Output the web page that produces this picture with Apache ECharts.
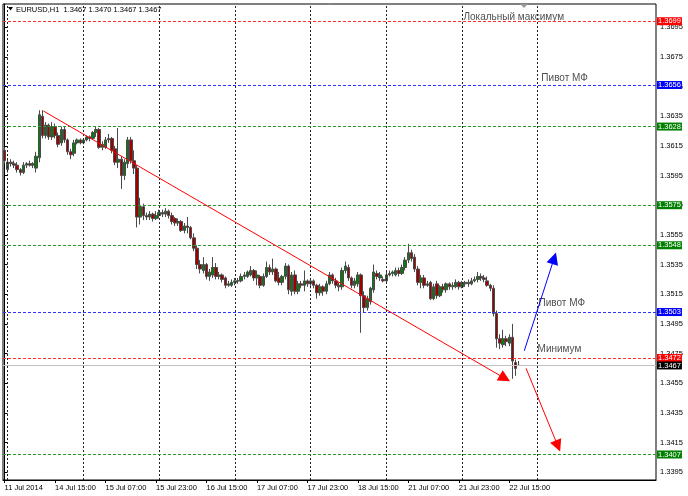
<!DOCTYPE html>
<html><head><meta charset="utf-8">
<script src="https://cdn.jsdelivr.net/npm/echarts@6/dist/echarts.min.js"></script>
<style>html,body{margin:0;padding:0;background:#fff}#c{width:688px;height:496px}</style>
</head><body><div id="c"></div>
<script>
const symbolName = 'EURUSD,H1';
const startLabel = '11 Jul 2014';

const open = [
1.3612,1.3599,1.3604,1.3603,1.3602,1.3599,1.3597,1.3602,1.3603,1.3602,
1.3600,1.3607,1.3635,1.3622,1.3629,1.3621,1.3628,1.3622,1.3617,1.3626,
1.3619,1.3611,1.3610,1.3617,1.3619,1.3617,1.3619,1.3621,1.3620,1.3624,
1.3626,1.3614,1.3614,1.3619,1.3620,1.3613,1.3604,1.3606,1.3595,1.3603,
1.3619,1.3605,1.3600,1.3567,1.3574,1.3568,1.3567,1.3569,1.3566,1.3568,
1.3570,1.3569,1.3571,1.3568,1.3566,1.3563,1.3564,1.3558,1.3561,1.3560,
1.3553,1.3546,1.3535,1.3531,1.3535,1.3527,1.3528,1.3533,1.3527,1.3528,
1.3526,1.3521,1.3521,1.3523,1.3524,1.3524,1.3527,1.3527,1.3528,1.3531,
1.3526,1.3527,1.3521,1.3527,1.3533,1.3530,1.3532,1.3526,1.3523,1.3527,
1.3534,1.3517,1.3528,1.3517,1.3522,1.3521,1.3524,1.3522,1.3524,1.3521,
1.3516,1.3520,1.3517,1.3522,1.3528,1.3524,1.3521,1.3520,1.3531,1.3533,
1.3526,1.3521,1.3522,1.3528,1.3514,1.3506,1.3510,1.3518,1.3529,1.3526,
1.3525,1.3524,1.3528,1.3529,1.3528,1.3531,1.3529,1.3533,1.3538,1.3543,
1.3540,1.3532,1.3523,1.3526,1.3521,1.3523,1.3512,1.3522,1.3514,1.3520,
1.3518,1.3522,1.3520,1.3520,1.3523,1.3520,1.3522,1.3523,1.3522,1.3524,
1.3525,1.3527,1.3526,1.3524,1.3521,1.3519,1.3502,1.3485,1.3481,1.3485,
1.3482,1.3486,1.3469,1.3467];
const high = [
1.3614,1.3606,1.3606,1.3605,1.3604,1.3600,1.3604,1.3604,1.3605,1.3604,
1.3611,1.3639,1.3639,1.3631,1.3630,1.3631,1.3630,1.3624,1.3628,1.3628,
1.3620,1.3613,1.3619,1.3620,1.3620,1.3620,1.3622,1.3622,1.3625,1.3628,
1.3627,1.3618,1.3621,1.3623,1.3621,1.3615,1.3627,1.3608,1.3606,1.3621,
1.3621,1.3612,1.3602,1.3580,1.3576,1.3570,1.3571,1.3570,1.3571,1.3572,
1.3572,1.3573,1.3572,1.3570,1.3567,1.3566,1.3565,1.3563,1.3567,1.3561,
1.3556,1.3548,1.3538,1.3540,1.3536,1.3532,1.3540,1.3536,1.3530,1.3529,
1.3527,1.3524,1.3525,1.3526,1.3526,1.3529,1.3530,1.3531,1.3534,1.3532,
1.3531,1.3528,1.3529,1.3537,1.3535,1.3539,1.3533,1.3530,1.3528,1.3536,
1.3535,1.3530,1.3531,1.3524,1.3524,1.3531,1.3525,1.3526,1.3525,1.3522,
1.3522,1.3521,1.3524,1.3530,1.3529,1.3526,1.3523,1.3533,1.3537,1.3535,
1.3527,1.3526,1.3530,1.3529,1.3517,1.3514,1.3520,1.3535,1.3531,1.3530,
1.3527,1.3531,1.3531,1.3531,1.3533,1.3533,1.3535,1.3540,1.3549,1.3545,
1.3542,1.3534,1.3528,1.3528,1.3524,1.3524,1.3522,1.3524,1.3521,1.3522,
1.3523,1.3523,1.3523,1.3525,1.3524,1.3524,1.3524,1.3525,1.3526,1.3527,
1.3530,1.3529,1.3528,1.3527,1.3522,1.3521,1.3504,1.3488,1.3491,1.3487,
1.3488,1.3495,1.3471,1.3470];
const low = [
1.3603,1.3597,1.3601,1.3600,1.3597,1.3595,1.3596,1.3600,1.3601,1.3600,
1.3597,1.3604,1.3620,1.3620,1.3619,1.3619,1.3620,1.3614,1.3615,1.3617,
1.3609,1.3606,1.3608,1.3616,1.3616,1.3616,1.3618,1.3618,1.3619,1.3621,
1.3613,1.3612,1.3613,1.3617,1.3610,1.3602,1.3600,1.3586,1.3592,1.3600,
1.3603,1.3596,1.3560,1.3562,1.3565,1.3565,1.3565,1.3564,1.3565,1.3566,
1.3567,1.3567,1.3566,1.3562,1.3561,1.3561,1.3557,1.3556,1.3556,1.3552,
1.3544,1.3532,1.3529,1.3529,1.3525,1.3524,1.3526,1.3525,1.3525,1.3523,
1.3519,1.3520,1.3520,1.3521,1.3522,1.3523,1.3525,1.3526,1.3527,1.3524,
1.3521,1.3519,1.3520,1.3526,1.3528,1.3528,1.3523,1.3521,1.3521,1.3525,
1.3515,1.3514,1.3515,1.3515,1.3519,1.3517,1.3520,1.3519,1.3519,1.3512,
1.3514,1.3514,1.3515,1.3521,1.3522,1.3519,1.3517,1.3518,1.3529,1.3524,
1.3519,1.3519,1.3520,1.3489,1.3503,1.3504,1.3508,1.3516,1.3525,1.3524,
1.3523,1.3523,1.3527,1.3527,1.3527,1.3527,1.3528,1.3531,1.3536,1.3537,
1.3530,1.3521,1.3519,1.3519,1.3520,1.3511,1.3511,1.3512,1.3513,1.3516,
1.3516,1.3518,1.3518,1.3519,1.3518,1.3519,1.3520,1.3520,1.3521,1.3523,
1.3523,1.3524,1.3523,1.3520,1.3517,1.3500,1.3479,1.3478,1.3479,1.3480,
1.3480,1.3458,1.3460,1.3467];
const close = [
1.3605,1.3604,1.3603,1.3602,1.3599,1.3597,1.3602,1.3603,1.3602,1.3603,
1.3608,1.3636,1.3622,1.3629,1.3621,1.3628,1.3622,1.3616,1.3626,1.3619,
1.3611,1.3609,1.3617,1.3619,1.3617,1.3619,1.3621,1.3620,1.3624,1.3626,
1.3614,1.3616,1.3619,1.3620,1.3612,1.3604,1.3606,1.3595,1.3604,1.3619,
1.3605,1.3600,1.3567,1.3574,1.3568,1.3567,1.3569,1.3566,1.3568,1.3570,
1.3569,1.3571,1.3568,1.3564,1.3563,1.3564,1.3558,1.3561,1.3560,1.3553,
1.3546,1.3535,1.3532,1.3535,1.3527,1.3530,1.3533,1.3527,1.3528,1.3525,
1.3521,1.3522,1.3523,1.3524,1.3524,1.3527,1.3528,1.3530,1.3531,1.3526,
1.3528,1.3521,1.3527,1.3533,1.3530,1.3532,1.3524,1.3523,1.3527,1.3534,
1.3518,1.3528,1.3517,1.3522,1.3521,1.3524,1.3522,1.3524,1.3521,1.3516,
1.3520,1.3517,1.3522,1.3528,1.3524,1.3521,1.3520,1.3531,1.3534,1.3526,
1.3521,1.3524,1.3528,1.3514,1.3506,1.3512,1.3519,1.3530,1.3527,1.3528,
1.3524,1.3528,1.3529,1.3530,1.3531,1.3529,1.3533,1.3538,1.3543,1.3539,
1.3532,1.3523,1.3526,1.3521,1.3522,1.3512,1.3520,1.3514,1.3520,1.3518,
1.3522,1.3520,1.3521,1.3523,1.3520,1.3522,1.3523,1.3522,1.3524,1.3525,
1.3527,1.3526,1.3525,1.3521,1.3519,1.3502,1.3485,1.3482,1.3485,1.3483,
1.3486,1.3470,1.3465,1.3467];

const yTickValues = [1.3395,1.3415,1.3435,1.3455,1.3475,1.3495,1.3515,1.3535,1.3555,1.3575,1.3595,1.3615,1.3635,1.3655,1.3675,1.3695];
const levelValues = [1.3699, 1.3656, 1.3628, 1.3575, 1.3548, 1.3503, 1.3472, 1.3407];
const levelColors = ['#ff0000','#0000ff','#008000','#008000','#008000','#0000ff','#ff0000','#008000'];
const levelLineColors = ['#ff3030','#3030ff','#2e9a2e','#2e9a2e','#2e9a2e','#3030ff','#ff3030','#2e9a2e'];
const currentPrice = 1.3467;
const daySeparators = [1, 25, 49, 73, 97, 121, 145, 169];
const annotationNames = ['Локальный максимум', 'Пивот МФ', 'Пивот МФ', 'Минимум'];
const annotationX = [145.3, 170.0, 169.1, 168.8];
const annotationY = [1.3699, 1.3656, 1.3503, 1.3472];
const annotationOffset = [-4, -6.5, -8.5, -8.5];
const trendStart = [[12.3, 1.36385], [164.75, 1.34769], [165.3, 1.34651]];
const trendEnd   = [[158.6, 1.34583], [174.2, 1.35392], [175.4, 1.34127]];
const trendColors = ['#ff0000', '#0000ff', '#ff0000'];

// hourly trading-time categories (weekends skipped), including empty future slots
const MON = ['Jan','Feb','Mar','Apr','May','Jun','Jul','Aug','Sep','Oct','Nov','Dec'];
const categories = [];
let t = Date.UTC(2014, 6, 11, 23);
while (categories.length < 207) {
  const d = new Date(t);
  const dow = d.getUTCDay();
  if (dow !== 0 && dow !== 6) {
    const hh = String(d.getUTCHours()).padStart(2, '0');
    categories.push(d.getUTCDate() + ' ' + MON[d.getUTCMonth()] + ' ' + hh + ':00');
  }
  t += 3600000;
}
const nBars = open.length;
const FONT = 'Liberation Sans';
const last = nBars - 1;
const header = symbolName + '  ' + [open[last], high[last], low[last], close[last]].map(v => v.toFixed(4)).join(' ');

const chart = echarts.init(document.getElementById('c'), null, {renderer: 'canvas'});

const markData = daySeparators.map(v => ({xAxis: v, label: {show: false},
  lineStyle: {color: '#222', type: [2, 2], width: 1}}));
levelValues.forEach((v, i) => markData.push({
  name: v.toFixed(4), yAxis: v,
  lineStyle: {color: levelLineColors[i], type: [3, 2], width: 1},
  label: {show: true, backgroundColor: levelColors[i]}
}));
markData.push({
  name: currentPrice.toFixed(4), yAxis: currentPrice,
  lineStyle: {color: '#c0c0c0', type: 'solid', width: 1},
  label: {show: true, backgroundColor: '#000000'}
});

chart.setOption({
  animation: false,
  backgroundColor: '#ffffff',
  grid: {left: 3, right: 32, top: 4, bottom: 16, show: true, borderColor: '#000', borderWidth: 1, backgroundColor: 'transparent'},
  xAxis: [{
    type: 'category', data: categories, boundaryGap: true,
    axisLine: {show: true, lineStyle: {color: '#000'}},
    axisTick: {show: true, alignWithLabel: true, length: 3, lineStyle: {color: '#000'},
      interval: (i) => i % 16 === 0 && i < nBars},
    axisLabel: {show: true, interval: (i) => i % 16 === 0 && i < nBars, align: 'left', margin: 4,
      fontFamily: FONT, fontSize: 7.5, color: '#000',
      formatter: (v, i) => i === 0 ? startLabel : v},
    splitLine: {show: false}
  }, {
    type: 'value', min: -0.5, max: 206.5, show: false
  }],
  yAxis: [{
    type: 'value', position: 'right', min: 1.33898, max: 1.37106, scale: true,
    axisLine: {show: true, lineStyle: {color: '#000'}},
    axisTick: {show: true, length: 3, customValues: yTickValues, lineStyle: {color: '#000'}},
    axisLabel: {show: true, customValues: yTickValues, margin: 4, fontFamily: FONT, fontSize: 7.5, color: '#000',
      formatter: v => v.toFixed(4)},
    splitLine: {show: false}
  }],
  graphic: [
    {type: 'polygon', shape: {points: [[8, 7], [13, 7], [10.5, 10.5]]}, style: {fill: '#000'}},
    {type: 'text', left: 16, top: 5.5, style: {text: header, font: '7.5px "Liberation Sans"', fill: '#000'}},
    {type: 'polygon', shape: {points: [[520, 4], [528, 4], [524, 8]]}, style: {fill: '#9a9a9a'}}
  ],
  series: [
    {
      type: 'candlestick', xAxisIndex: 0, yAxisIndex: 0,
      data: open.map((o, i) => [o, close[i], low[i], high[i]]),
      barWidth: 3, z: 3,
      itemStyle: {color: '#0a7a0a', color0: '#a00000', borderColor: '#4a4a4a', borderColor0: '#4a4a4a', borderWidth: 1}
    },
    {
      type: 'scatter', xAxisIndex: 1, yAxisIndex: 0, symbolSize: 1, silent: true,
      itemStyle: {color: 'rgba(0,0,0,0)'},
      data: annotationNames.map((n, i) => ({name: n, value: [annotationX[i], annotationY[i]],
        label: {offset: [0, annotationOffset[i]]}})),
      label: {show: true, position: 'right', distance: 0, formatter: '{b}', color: '#222',
        fontFamily: FONT, fontSize: 10},
      markLine: {
        silent: true, symbol: 'none', animation: false, precision: 4,
        label: {show: true, position: 'end', distance: 1, formatter: '{b}', color: '#fff',
          fontFamily: FONT, fontSize: 7.5, lineHeight: 8, padding: [0, 1, 0, 1]},
        data: markData
      },
      z: 2
    },
    {
      type: 'lines', coordinateSystem: 'cartesian2d', xAxisIndex: 1, yAxisIndex: 0, silent: true,
      symbol: ['none', 'triangle'], symbolSize: [7, 12],
      data: trendStart.map((s, i) => ({coords: [s, trendEnd[i]], lineStyle: {color: trendColors[i], width: 1}})),
      lineStyle: {width: 1, opacity: 1},
      z: 5
    }
  ]
});
</script>
</body></html>
